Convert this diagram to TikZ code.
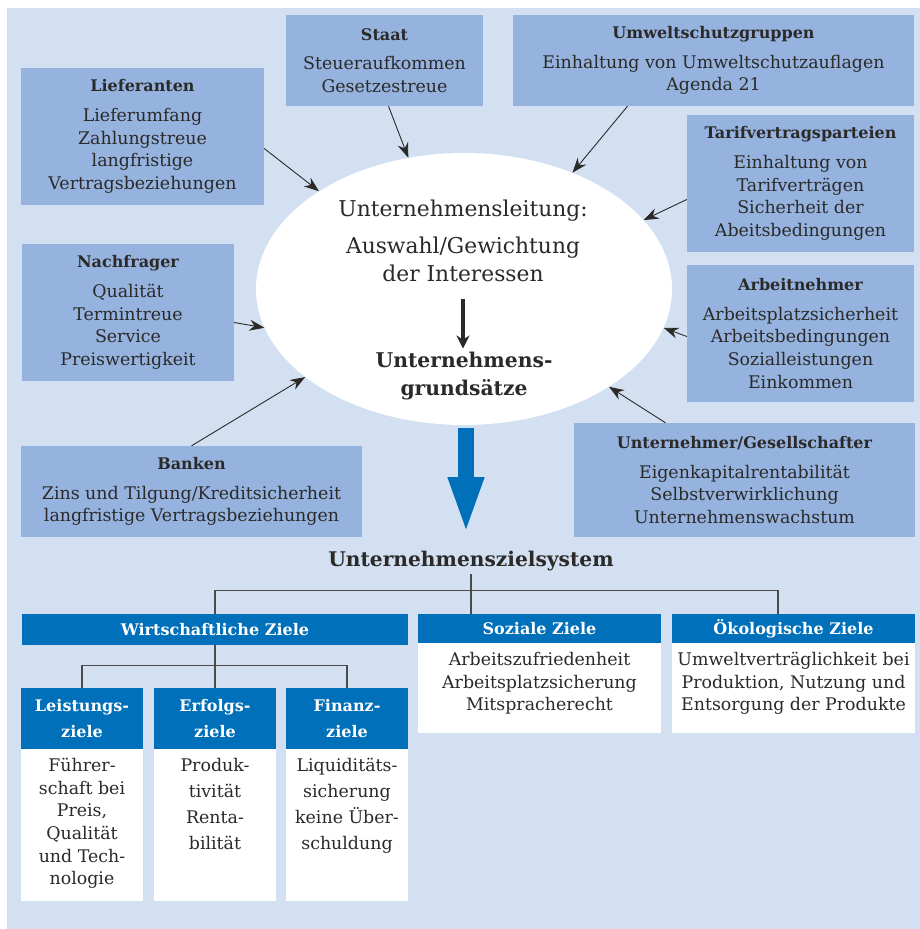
\documentclass[tikz,border=0pt]{standalone}
\usepackage{fontspec}
\setmainfont{DejaVu Serif}
\usetikzlibrary{arrows.meta,positioning,shapes.geometric}

\definecolor{hintergrund}{HTML}{D3E0F2}
\definecolor{kasten}{HTML}{95B3DE}
\definecolor{zielblau}{HTML}{0070BA}
\definecolor{schrift}{HTML}{2B2A29}
\definecolor{astgrau}{HTML}{4A4A4A}

\newcommand{\kastenfont}{\fontsize{17.4}{22.6}\selectfont}
\newcommand{\titelfont}{\fontsize{16}{22.6}\selectfont\bfseries}
\newcommand{\grossfont}{\fontsize{21.8}{28}\selectfont}
\newcommand{\kopffont}{\fontsize{16}{26}\selectfont\bfseries}

\tikzset{
  akteur/.style={fill=kasten, text=schrift, align=center, inner sep=0pt, font=\kastenfont},
  kopf/.style={fill=zielblau, text=white, align=center, inner sep=0pt, font=\kopffont},
  inhalt/.style={fill=white, text=schrift, inner sep=0pt, font=\kastenfont},
  pfeil/.style={-{Stealth[length=15pt,width=11pt]}, line width=0.9pt, draw=schrift},
  ast/.style={draw=astgrau, line width=1.3pt}
}

\begin{document}
\begin{tikzpicture}[x=1pt,y=-1pt]
\useasboundingbox (0,0) rectangle (920,929);
\fill[hintergrund] (7,8) rectangle (920,929);

% Anspruchsgruppen rund um die Leitung
\node[akteur, minimum width=197pt, minimum height=91pt] (staat) at (384.5,60.5)
  {{\titelfont Staat}\\[7pt] Steueraufkommen\\ Gesetzestreue};
\node[akteur, minimum width=401pt, minimum height=91pt] (umwelt) at (713.5,60.5)
  {{\titelfont Umweltschutzgruppen}\\[7pt] Einhaltung von Umweltschutzauflagen\\ Agenda 21};
\node[akteur, minimum width=243pt, minimum height=137pt] (lief) at (142.5,136.5)
  {{\titelfont Lieferanten}\\[7pt] Lieferumfang\\ Zahlungstreue\\ langfristige\\ Vertragsbeziehungen};
\node[akteur, minimum width=227pt, minimum height=137pt] (tarif) at (800.5,183.5)
  {{\titelfont Tarifvertragsparteien}\\[7pt] Einhaltung von\\ Tarifverträgen\\ Sicherheit der\\ Abeitsbedingungen};
\node[akteur, minimum width=212pt, minimum height=137pt] (nachf) at (128,312.5)
  {{\titelfont Nachfrager}\\[7pt] Qualität\\ Termintreue\\ Service\\ Preiswertigkeit};
\node[akteur, minimum width=227pt, minimum height=137pt] (arbn) at (800.5,333.5)
  {{\titelfont Arbeitnehmer}\\[7pt] Arbeitsplatzsicherheit\\ Arbeitsbedingungen\\ Sozialleistungen\\ Einkommen};
\node[akteur, minimum width=341pt, minimum height=91pt] (banken) at (191.5,491.5)
  {{\titelfont Banken}\\[7pt] Zins und Tilgung/Kreditsicherheit\\ langfristige Vertragsbeziehungen};
\node[akteur, minimum width=341pt, minimum height=114pt] (unt) at (744.5,480)
  {{\titelfont Unternehmer/Gesellschafter}\\[7pt] Eigenkapitalrentabilität\\ Selbstverwirklichung\\ Unternehmenswachstum};

% Leitung
\node[ellipse, fill=white, minimum width=416pt, minimum height=272pt, inner sep=0pt] (leit) at (464,289) {};
\node[font=\grossfont, text=schrift, align=center] (ltext) at (463,241)
  {Unternehmensleitung:\\[9pt] Auswahl/Gewichtung\\ der Interessen};
\node[font=\fontsize{20.3}{28}\selectfont\bfseries, text=schrift, align=center] (gsatz) at (464,376)
  {Unternehmens-\\ grundsätze};
\draw[-{Stealth[length=13pt,width=13pt]}, line width=3.5pt, draw=schrift, shorten <=14pt]
  (ltext.south) -- (ltext.south |- gsatz.north);

\draw[pfeil] ([yshift=-12pt]lief.east) -- (leit.146);
\draw[pfeil] ([xshift=4pt]staat.south) -- (leit.113);
\draw[pfeil] ([xshift=-86pt]umwelt.south) -- (leit.47);
\draw[pfeil] ([yshift=-16pt]tarif.west) -- (leit.21);
\draw[pfeil] ([yshift=-10pt]nachf.east) -- (leit.191);
\draw[pfeil] (banken.north) -- (leit.209);
\draw[pfeil] ([yshift=-3pt]arbn.west) -- (leit.-11);
\draw[pfeil] ([xshift=-79pt]unt.north) -- (leit.-34);

% Zielsystem
\coordinate (spitze) at (466,535);
\draw[line width=16pt, draw=zielblau, -{Triangle[length=58pt,width=32pt]}]
  ([yshift=-3pt]leit.south -| spitze) -- (spitze);
\node[font=\fontsize{20.2}{24}\selectfont\bfseries, text=schrift] (zsys) at (471,561) {Unternehmenszielsystem};

\node[kopf, minimum width=386pt, minimum height=31pt] (wirt) at (215,629.5) {Wirtschaftliche Ziele};
\node[kopf, minimum width=243pt, minimum height=29pt] (sozial) at (539.5,628.5) {Soziale Ziele};
\node[kopf, minimum width=243pt, minimum height=29pt] (oeko) at (793.5,628.5) {Ökologische Ziele};
\node[inhalt, below=0pt of sozial]
  {\parbox[t][90pt][t]{243pt}{\centering\vspace*{9pt}Arbeitszufriedenheit\\ Arbeitsplatzsicherung\\ Mitspracherecht}};
\node[inhalt, below=0pt of oeko]
  {\parbox[t][90pt][t]{243pt}{\centering\vspace*{9pt}Umweltverträglichkeit bei\\ Produktion, Nutzung und\\ Entsorgung der Produkte}};

\node[kopf, minimum width=122pt, minimum height=61pt] (leist) at (82,718.5) {Leistungs-\\ ziele};
\node[kopf, minimum width=122pt, minimum height=61pt] (erf) at (215,718.5) {Erfolgs-\\ ziele};
\node[kopf, minimum width=122pt, minimum height=61pt] (fin) at (347,718.5) {Finanz-\\ ziele};
\node[inhalt, below=0pt of leist]
  {\parbox[t][152pt][t]{122pt}{\centering\vspace*{9pt}Führer-\\ schaft bei\\ Preis,\\ Qualität\\ und Tech-\\ nologie}};
\node[inhalt, below=0pt of erf, font=\fontsize{17.4}{26}\selectfont]
  {\parbox[t][152pt][t]{122pt}{\centering\vspace*{9pt}Produk-\\ tivität\\ Renta-\\ bilität}};
\node[inhalt, below=0pt of fin, font=\fontsize{17.4}{26}\selectfont]
  {\parbox[t][152pt][t]{122pt}{\centering\vspace*{9pt}Liquiditäts-\\ sicherung\\ keine Über-\\ schuldung}};

% Verbindungslinien
\draw[ast] (wirt.north) -- ++(0,-23) -| ([xshift=-15.5pt]oeko.north);
\draw[ast] (zsys.south) -- (zsys.south |- sozial.north);
\draw[ast] (wirt.south) -- (erf.north);
\draw[ast] (leist.north) -- ++(0,-22) -| (fin.north);
\end{tikzpicture}
\end{document}
